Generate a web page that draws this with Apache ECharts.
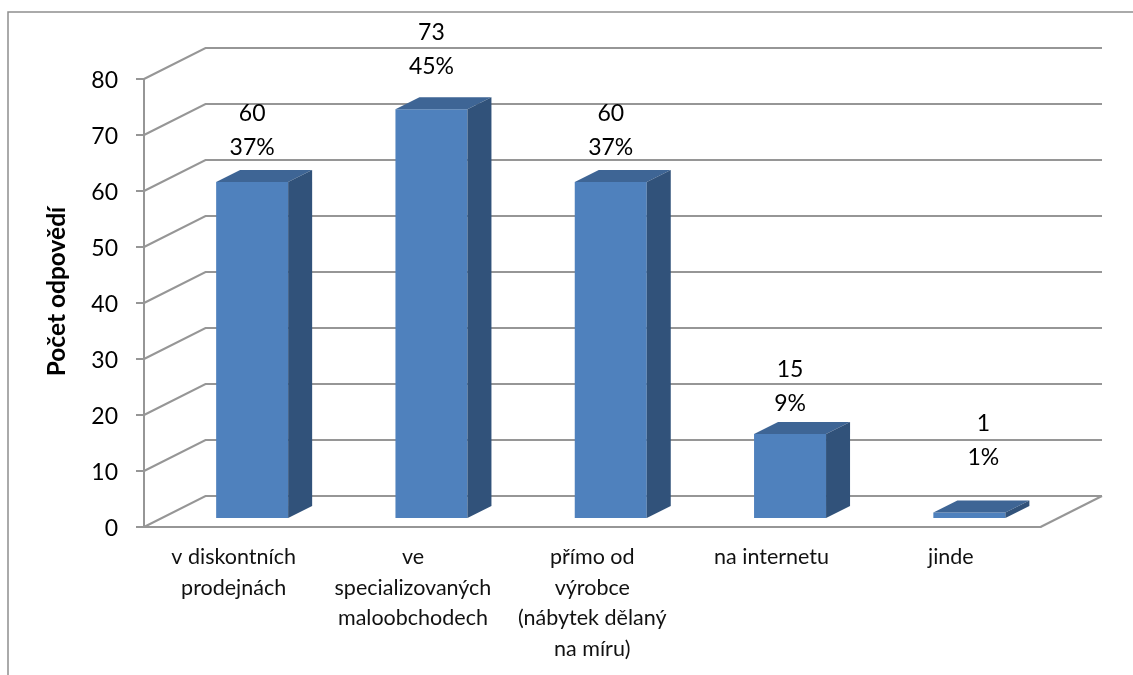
<!DOCTYPE html>
<html>
<head>
<meta charset="utf-8">
<style>html,body{margin:0;padding:0;background:#fff}#c{width:1133px;height:675px}</style>
<script src="https://cdn.jsdelivr.net/npm/echarts@6/dist/echarts.min.js"></script>
</head>
<body>
<div id="c"></div>
<script>
const categories = ["v diskontních\nprodejnách", "ve\nspecializovaných\nmaloobchodech", "přímo od\nvýrobce\n(nábytek dělaný\nna míru)", "na internetu", "jinde"];
const counts = [60, 73, 60, 15, 1];
const shares = ["37%", "45%", "37%", "9%", "1%"];
const yTicks = [0, 10, 20, 30, 40, 50, 60, 70, 80];
const yTitle = "Počet odpovědí";

// Pseudo-3D styling (pixel offsets, separate from the data)
const wall = {dx: 61.5, dy: -31};
const bar = {shiftX: 18.5, shiftY: -9, width: 72, dx: 24, dy: -12};
const labelLift = [51, 59.5, 51, 47.5, 71.5];
const labelShift = [0, 0, 0, 0, 14];
const FONT = 'Lato, "Noto Sans", sans-serif';
const GRID = '#969696';

const chart = echarts.init(document.getElementById('c'));
chart.setOption({
  animation: false,
  backgroundColor: '#fff',
  graphic: [{
    type: 'polyline', silent: true, z: 0,
    shape: {points: [[8, 675], [8, 12], [1133, 12]]},
    style: {stroke: '#8f8f8f', lineWidth: 1.5, fill: null}
  }],
  grid: {left: 144, right: 92.5, top: 79, height: 448, containLabel: false},
  xAxis: {
    type: 'category', data: categories,
    axisLine: {show: true, lineStyle: {color: GRID, width: 2}},
    axisTick: {show: false},
    axisLabel: {color: '#111', fontFamily: FONT, fontSize: 21.5, lineHeight: 30.5, margin: 15, interval: 0, verticalAlign: 'top'},
    splitLine: {show: false}
  },
  yAxis: {
    type: 'value', min: 0, max: 80, interval: 10,
    name: yTitle, nameLocation: 'middle', nameGap: 74, nameRotate: 90,
    nameTextStyle: {color: '#000', fontFamily: FONT, fontSize: 24.5, fontWeight: 'bold', padding: [0, 0, 0, 23]},
    axisLine: {show: true, lineStyle: {color: GRID, width: 2}},
    axisTick: {show: true, length: 8, lineStyle: {color: GRID, width: 2}},
    axisLabel: {
      margin: 26,
      formatter: '{t|{value}}',
      rich: {t: {color: '#000', fontFamily: FONT, fontSize: 23, padding: [4, 0, 0, 0]}}
    },
    splitLine: {show: false}
  },
  series: [
    {
      // receding wall gridlines and floor edge
      type: 'custom', z: 1, silent: true, clip: false,
      coordinateSystem: 'cartesian2d',
      data: yTicks.map(v => [0, v]),
      encode: {x: 0, y: 1},
      renderItem(params, api) {
        const v = api.value(1);
        const y = api.coord([0, v])[1];
        const cs = params.coordSys;
        const left = cs.x, right = cs.x + cs.width;
        const line = {stroke: GRID, lineWidth: 2, fill: null};
        const pts = [[left, y], [left + wall.dx, y + wall.dy], [right + wall.dx, y + wall.dy]];
        const children = [{type: 'polyline', shape: {points: pts}, style: line}];
        if (v === 0) {
          children.push({type: 'line', shape: {x1: right, y1: y, x2: right + wall.dx, y2: y + wall.dy}, style: line});
        }
        return {type: 'group', children};
      }
    },
    {
      type: 'custom', z: 3, silent: true, clip: false,
      coordinateSystem: 'cartesian2d',
      data: counts.map((v, i) => [i, v]),
      encode: {x: 0, y: 1},
      renderItem(params, api) {
        const i = params.dataIndex;
        const top = api.coord([api.value(0), api.value(1)]);
        const base = api.coord([api.value(0), 0]);
        const cx = top[0] + bar.shiftX;
        const x0 = cx - bar.width / 2, x1 = cx + bar.width / 2;
        const yt = top[1] + bar.shiftY, yb = base[1] + bar.shiftY;
        const dx = bar.dx, dy = bar.dy;
        return {type: 'group', children: [
          {type: 'rect', shape: {x: x0, y: yt, width: bar.width, height: yb - yt}, style: {fill: '#4F81BD'}},
          {type: 'polygon', shape: {points: [[x0, yt], [x1, yt], [x1 + dx, yt + dy], [x0 + dx, yt + dy]]}, style: {fill: '#3E6595'}},
          {type: 'polygon', shape: {points: [[x1, yt], [x1 + dx, yt + dy], [x1 + dx, yb + dy], [x1, yb]]}, style: {fill: '#31527A'}},
          {type: 'text', style: {
            text: counts[i] + '\n' + shares[i],
            x: cx + labelShift[i], y: yt - labelLift[i],
            align: 'center', verticalAlign: 'middle',
            fontFamily: FONT, fontSize: 23, lineHeight: 34, fill: '#000'
          }}
        ]};
      }
    }
  ]
});
</script>
</body>
</html>
